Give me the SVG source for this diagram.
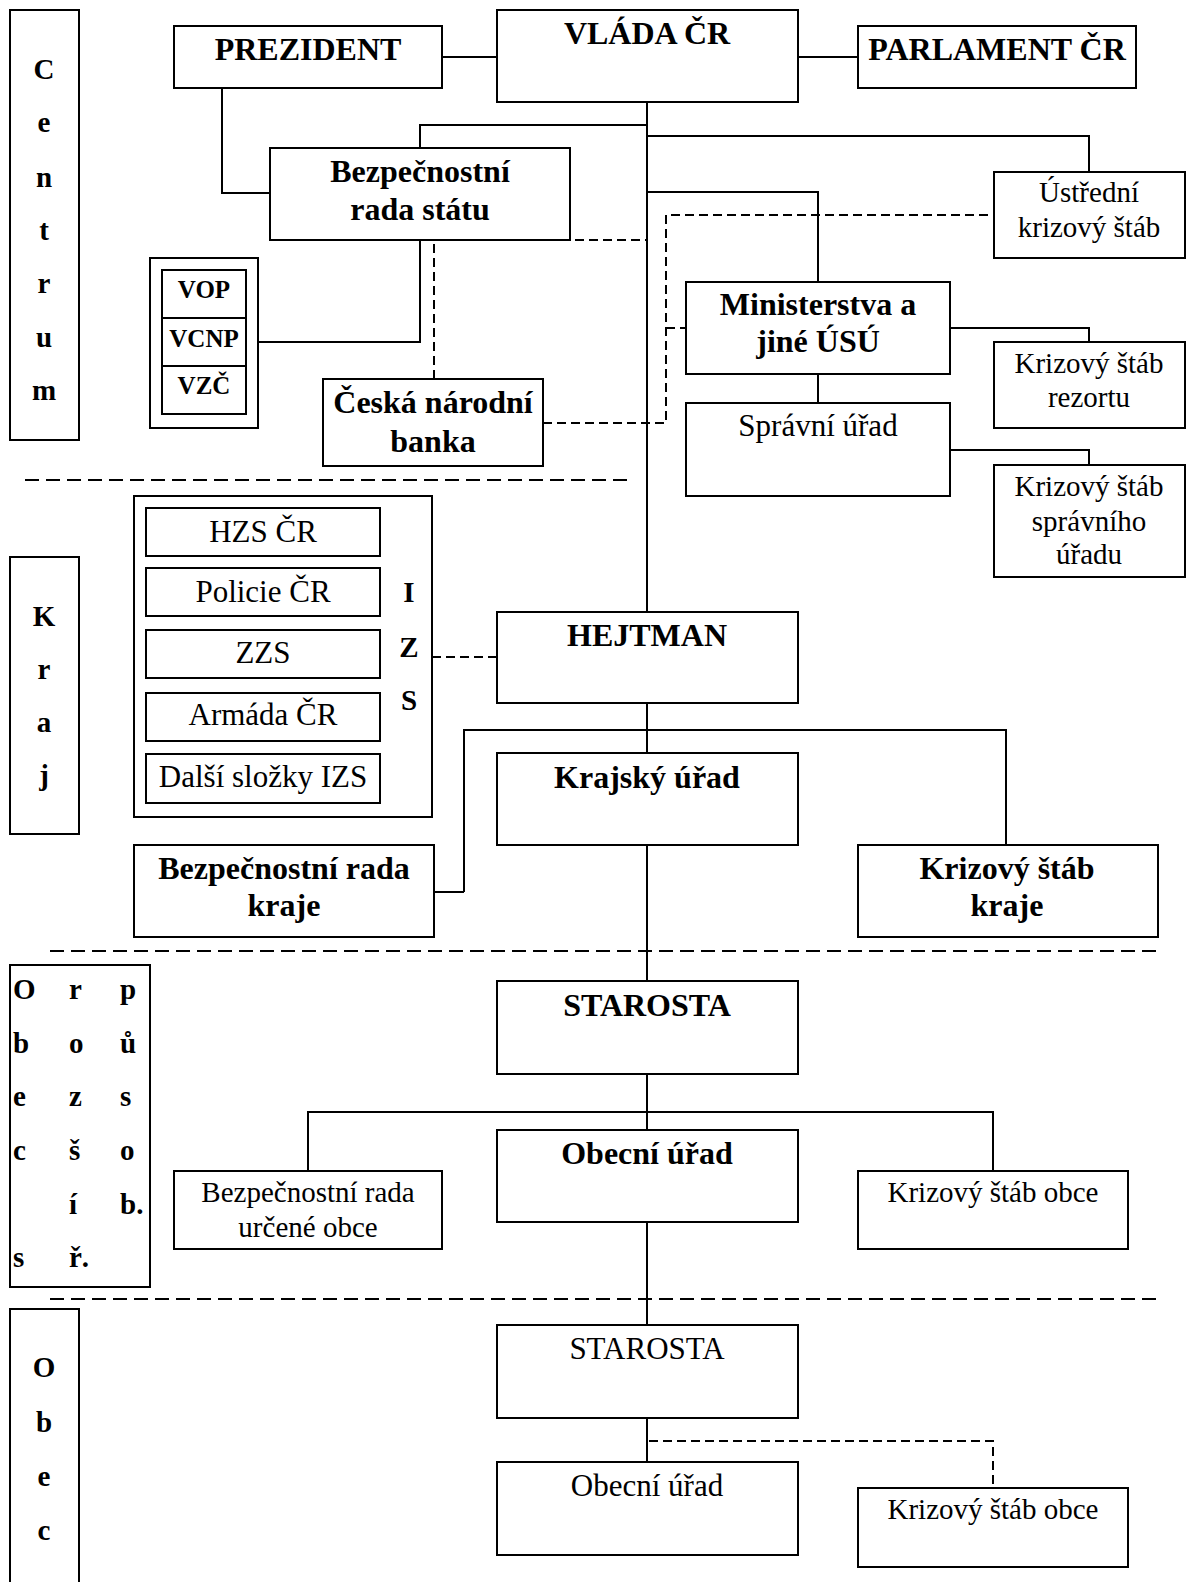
<svg xmlns="http://www.w3.org/2000/svg" width="1186" height="1582" viewBox="0 0 1186 1582">
<style>
rect{fill:#fff;stroke:#000;stroke-width:2}
.c{fill:none;stroke:#000;stroke-width:2}
.d{fill:none;stroke:#000;stroke-width:2;stroke-dasharray:9 5}
.lv{fill:none;stroke:#000;stroke-width:2;stroke-dasharray:14 7}
text{font-family:"Liberation Serif","Times New Roman",serif;fill:#000;text-anchor:middle}
.b{font-weight:bold;font-size:32px}
.r{font-size:29px}
.r31{font-size:31px}
.l{font-weight:bold;font-size:29px}
.s{font-weight:bold;font-size:25px}
.la{text-anchor:start}
</style>
<rect x="0" y="0" width="1186" height="1582" style="stroke:none"/>
<g id="connectors">
<path class="c" d="M442 57H497M798 57H858"/>
<path class="c" d="M647 102V612M420 148V125H647M647 136H1089V172M647 192H818V282"/>
<path class="c" d="M222 88V193H270"/>
<path class="c" d="M420 240V342H258"/>
<path class="c" d="M950 328H1089V342M818 374V403M950 450H1089V465"/>
<path class="d" d="M434 379V240H647"/>
<path class="d" d="M543 423H666V215H994M666 328H686"/>
<path class="d" d="M432 657H497"/>
<path class="c" d="M647 703V753M464 892V730H1006V845M464 892H434"/>
<path class="c" d="M647 845V981"/>
<path class="c" d="M647 1074V1130M308 1171V1112H993V1171"/>
<path class="c" d="M647 1222V1325M647 1418V1462"/>
<path class="d" d="M649 1441H993V1488"/>
<path class="lv" d="M25 480H628M50 951H1161M50 1299H1161"/>
</g>
<g id="lbl-centrum"><rect x="10" y="10" width="69" height="430"/>
<text class="l" x="44" y="79">C</text><text class="l" x="44" y="132">e</text><text class="l" x="44" y="187">n</text><text class="l" x="44" y="240">t</text><text class="l" x="44" y="293">r</text><text class="l" x="44" y="347">u</text><text class="l" x="44" y="400">m</text></g>
<g id="lbl-kraj"><rect x="10" y="557" width="69" height="277"/>
<text class="l" x="44" y="626">K</text><text class="l" x="44" y="679">r</text><text class="l" x="44" y="732">a</text><text class="l" x="44" y="785">j</text></g>
<g id="lbl-orp"><rect x="10" y="965" width="140" height="322"/>
<text class="l la" x="13" y="999">O</text><text class="l la" x="13" y="1053">b</text><text class="l la" x="13" y="1106">e</text><text class="l la" x="13" y="1160">c</text><text class="l la" x="13" y="1267">s</text>
<text class="l la" x="69" y="999">r</text><text class="l la" x="69" y="1053">o</text><text class="l la" x="69" y="1106">z</text><text class="l la" x="69" y="1160">š</text><text class="l la" x="69" y="1214">í</text><text class="l la" x="69" y="1267">ř.</text>
<text class="l la" x="120" y="999">p</text><text class="l la" x="120" y="1053">ů</text><text class="l la" x="120" y="1106">s</text><text class="l la" x="120" y="1160">o</text><text class="l la" x="120" y="1214">b.</text></g>
<g id="lbl-obec"><rect x="10" y="1309" width="69" height="290"/>
<text class="l" x="44" y="1377">O</text><text class="l" x="44" y="1432">b</text><text class="l" x="44" y="1486">e</text><text class="l" x="44" y="1540">c</text></g>
<g id="prezident"><rect x="174" y="26" width="268" height="62"/><text class="b" x="308" y="60">PREZIDENT</text></g>
<g id="vlada"><rect x="497" y="10" width="301" height="92"/><text class="b" x="647" y="44">VLÁDA ČR</text></g>
<g id="parlament"><rect x="858" y="26" width="278" height="62"/><text class="b" x="997" y="60">PARLAMENT ČR</text></g>
<g id="brs"><rect x="270" y="148" width="300" height="92"/><text class="b" x="420" y="182">Bezpečnostní</text><text class="b" x="420" y="220">rada státu</text></g>
<g id="ustredni"><rect x="994" y="172" width="191" height="86"/><text class="r" x="1089" y="202">Ústřední</text><text class="r" x="1089" y="237">krizový štáb</text></g>
<g id="vop"><rect x="150" y="258" width="108" height="170"/>
<rect x="162" y="270" width="84" height="48"/><rect x="162" y="318" width="84" height="48"/><rect x="162" y="366" width="84" height="48"/>
<text class="s" x="204" y="298">VOP</text><text class="s" x="204" y="347">VCNP</text><text class="s" x="204" y="394">VZČ</text></g>
<g id="ministerstva"><rect x="686" y="282" width="264" height="92"/><text class="b" x="818" y="315">Ministerstva a</text><text class="b" x="818" y="352">jiné ÚSÚ</text></g>
<g id="ks-rezortu"><rect x="994" y="342" width="191" height="86"/><text class="r" x="1089" y="373">Krizový štáb</text><text class="r" x="1089" y="407">rezortu</text></g>
<g id="cnb"><rect x="323" y="379" width="220" height="87"/><text class="b" x="433" y="413">Česká národní</text><text class="b" x="433" y="452">banka</text></g>
<g id="spravni"><rect x="686" y="403" width="264" height="93"/><text class="r31" x="818" y="436">Správní úřad</text></g>
<g id="ks-spravni"><rect x="994" y="465" width="191" height="112"/><text class="r" x="1089" y="496">Krizový štáb</text><text class="r" x="1089" y="531">správního</text><text class="r" x="1089" y="564">úřadu</text></g>
<g id="izs"><rect x="134" y="496" width="298" height="321"/>
<rect x="146" y="508" width="234" height="48"/><text class="r31" x="263" y="542">HZS ČR</text>
<rect x="146" y="568" width="234" height="48"/><text class="r31" x="263" y="602">Policie ČR</text>
<rect x="146" y="630" width="234" height="48"/><text class="r31" x="263" y="663">ZZS</text>
<rect x="146" y="693" width="234" height="48"/><text class="r31" x="263" y="725">Armáda ČR</text>
<rect x="146" y="754" width="234" height="49"/><text class="r31" x="263" y="787">Další složky IZS</text>
<text class="l" x="409" y="602">I</text><text class="l" x="409" y="657">Z</text><text class="l" x="409" y="710">S</text></g>
<g id="hejtman"><rect x="497" y="612" width="301" height="91"/><text class="b" x="647" y="646">HEJTMAN</text></g>
<g id="krajsky"><rect x="497" y="753" width="301" height="92"/><text class="b" x="647" y="788">Krajský úřad</text></g>
<g id="brk"><rect x="134" y="845" width="300" height="92"/><text class="b" x="284" y="879">Bezpečnostní rada</text><text class="b" x="284" y="916">kraje</text></g>
<g id="ksk"><rect x="858" y="845" width="300" height="92"/><text class="b" x="1007" y="879">Krizový štáb</text><text class="b" x="1007" y="916">kraje</text></g>
<g id="starosta1"><rect x="497" y="981" width="301" height="93"/><text class="b" x="647" y="1016">STAROSTA</text></g>
<g id="obecni1"><rect x="497" y="1130" width="301" height="92"/><text class="b" x="647" y="1164">Obecní úřad</text></g>
<g id="bruo"><rect x="174" y="1171" width="268" height="78"/><text class="r" x="308" y="1202">Bezpečnostní rada</text><text class="r" x="308" y="1237">určené obce</text></g>
<g id="kso1"><rect x="858" y="1171" width="270" height="78"/><text class="r" x="993" y="1202">Krizový štáb obce</text></g>
<g id="starosta2"><rect x="497" y="1325" width="301" height="93"/><text class="r31" x="647" y="1359">STAROSTA</text></g>
<g id="obecni2"><rect x="497" y="1462" width="301" height="93"/><text class="r31" x="647" y="1496">Obecní úřad</text></g>
<g id="kso2"><rect x="858" y="1488" width="270" height="79"/><text class="r" x="993" y="1519">Krizový štáb obce</text></g>
</svg>
